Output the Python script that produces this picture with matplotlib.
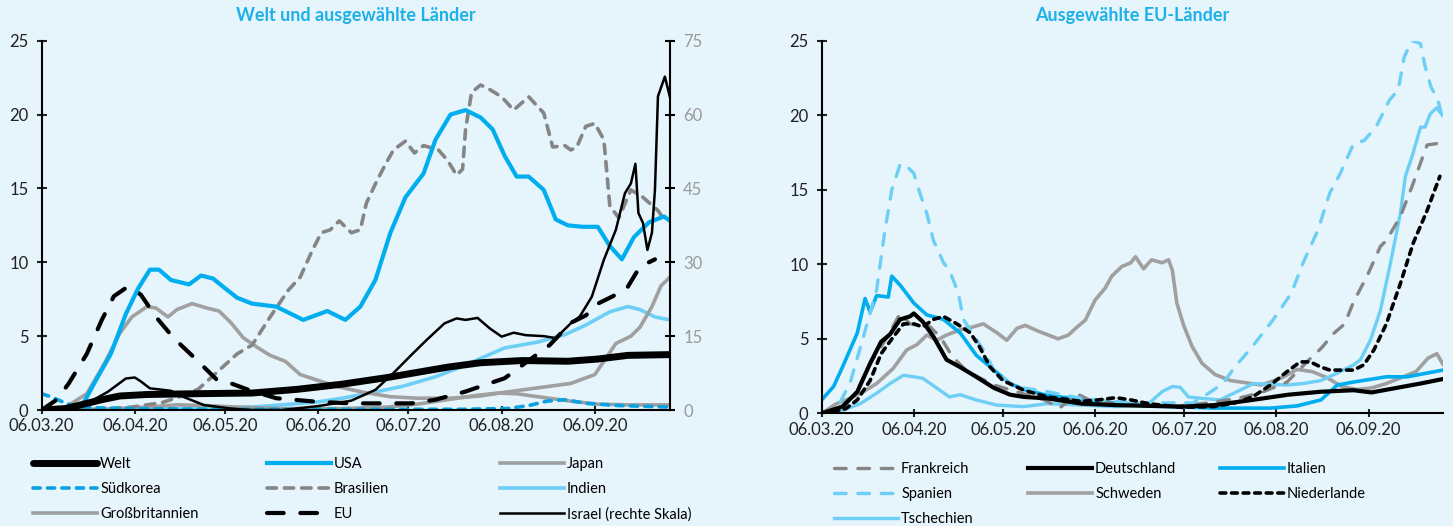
import numpy as np
import pandas as pd
import matplotlib
matplotlib.use("Agg")
import matplotlib.pyplot as plt

# Data: days after 06.03.20, values per 100k inhabitants (7-day avg)
welt_t = [0, 8, 14, 20, 26, 35, 50, 70, 85, 100, 115, 125, 135, 146, 160, 175, 185, 195, 209]
welt = [0, 0.1, 0.4, 0.7, 0.95, 1.05, 1.1, 1.15, 1.4, 1.75, 2.2, 2.55, 2.9, 3.2, 3.35, 3.3, 3.45, 3.7, 3.75]

usa_t = [0, 10, 14, 18, 23, 28, 32, 36, 39, 43, 49, 53, 57, 60, 65, 70, 78, 87, 95, 101, 106, 111, 116,
         121, 127, 131, 136, 141, 146, 150, 154, 158, 162, 167, 171, 175, 180, 185, 189, 193, 197, 202, 207, 209]
usa = [0.1, 0.1, 0.5, 2, 3.8, 6.5, 8.2, 9.5, 9.5, 8.8, 8.5, 9.1, 8.9, 8.4, 7.6, 7.2, 7.0, 6.1, 6.7, 6.1, 7.0, 8.8, 12,
       14.4, 16, 18.3, 20, 20.3, 19.8, 19, 17.2, 15.8, 15.8, 14.9, 12.9, 12.5, 12.4, 12.4, 11.1, 10.2, 11.7, 12.7, 13.1, 12.8]

japan_t = [0, 20, 35, 45, 55, 65, 80, 100, 115, 125, 135, 145, 152, 158, 165, 176, 185, 195, 209]
japan = [0, 0.05, 0.2, 0.35, 0.3, 0.2, 0.1, 0.1, 0.2, 0.4, 0.7, 1.0, 1.15, 1.1, 0.9, 0.6, 0.4, 0.35, 0.35]

korea_t = [0, 3, 7, 11, 18, 30, 60, 100, 140, 155, 162, 168, 174, 181, 192, 209]
korea = [1.1, 0.9, 0.55, 0.25, 0.15, 0.1, 0.05, 0.05, 0.05, 0.1, 0.3, 0.6, 0.7, 0.45, 0.3, 0.2]

brasil_t = [0, 20, 30, 40, 46, 52, 58, 65, 70, 76, 82, 86, 90, 93, 96, 99, 103, 106, 108, 111, 114, 117, 121,
            124, 127, 132, 135, 138, 140, 141, 143, 146, 149, 153, 157, 162, 167, 170, 174, 176, 178, 181, 184,
            187, 189, 192, 196, 200, 205, 207]
brasil = [0, 0.05, 0.2, 0.5, 0.9, 1.4, 2.5, 3.8, 4.4, 6.3, 8.1, 9.0, 10.8, 12.0, 12.2, 12.8, 12.0, 12.2, 14.0,
          15.3, 16.5, 17.6, 18.2, 17.4, 17.9, 17.6, 16.9, 15.9, 16.3, 19, 21.5, 22.0, 21.7, 21.2, 20.3, 21.2,
          20.1, 17.8, 17.9, 17.6, 17.8, 19.2, 19.4, 18.3, 13.8, 13.0, 14.9, 14.4, 13.5, 12.9]

indien_t = [0, 30, 50, 70, 80, 92, 100, 108, 120, 131, 138, 146, 154, 165, 174, 181, 189, 195, 199, 204, 209]
indien = [0, 0.05, 0.1, 0.2, 0.35, 0.55, 0.8, 1.1, 1.6, 2.25, 2.8, 3.5, 4.2, 4.6, 5.1, 5.75, 6.65, 7.0, 6.8, 6.3, 6.1]

gb_t = [0, 8, 15, 21, 26, 30, 35, 38, 42, 45, 50, 55, 59, 63, 67, 72, 76, 81, 86, 92, 98, 107, 116, 125,
        136, 146, 154, 165, 176, 184, 188, 191, 196, 199, 203, 206, 209]
gb = [0, 0.2, 1.1, 3.2, 5.2, 6.3, 7.0, 6.9, 6.3, 6.8, 7.2, 6.9, 6.7, 5.9, 4.9, 4.2, 3.7, 3.3, 2.4, 2.0, 1.6,
      1.2, 0.9, 0.8, 0.8, 0.95, 1.2, 1.5, 1.8, 2.4, 3.6, 4.5, 5.0, 5.6, 7.0, 8.4, 9.0]

eu_t = [0, 5, 9, 15, 20, 24, 29, 33, 38, 44, 51, 58, 63, 69, 78, 92, 103, 114, 123, 131, 141, 146, 154, 161,
        169, 176, 181, 185, 190, 195, 199, 204]
eu = [0, 0.7, 1.8, 3.8, 6.1, 7.7, 8.4, 7.8, 6.3, 4.85, 3.5, 2.1, 1.8, 1.35, 0.8, 0.55, 0.45, 0.45, 0.45, 0.7,
      1.25, 1.6, 2.15, 3.2, 4.4, 5.9, 6.4, 7.2, 7.7, 8.35, 9.7, 10.2]

israel_t = [0, 10, 15, 22, 28, 31, 33, 36, 43, 47, 54, 63, 70, 80, 92, 103, 111, 117, 123, 128, 134, 138, 141,
            145, 149, 153, 157, 161, 167, 171, 176, 179, 183, 187, 191, 194, 196, 197.5, 198.5, 200, 201.5, 203,
            204, 205, 207.3, 209]
israel = [0, 0.3, 1.3, 3.7, 6.4, 6.6, 5.8, 4.4, 3.9, 2.7, 1.0, 0.3, 0, 0, 0.8, 1.9, 4.1, 7.5, 11.2, 14.2, 17.6,
          18.6, 18.3, 18.7, 16.6, 14.9, 15.7, 15.2, 15.0, 14.6, 17.6, 19.0, 23, 30.5, 36.6, 44, 46, 50, 40, 38,
          32.5, 36, 44.7, 63.7, 67.7, 63.5]

# EU countries
frank_t = [0, 8, 12, 16.3, 22, 26.4, 29.7, 33, 36.5, 40, 44, 48, 52, 58, 63, 68, 75, 80, 86, 90, 100, 110, 120,
           130, 140, 148, 156.6, 164, 168, 172.5, 176, 179, 183.5, 188, 190, 194.7, 198.6, 201.5, 203.7, 207]
frank = [0, 0.6, 1.55, 3.35, 5.1, 6.7, 6.0, 5.9, 5.8, 5.1, 3.8, 3.0, 2.5, 1.9, 1.6, 1.3, 0.9, 0.35, 1.3, 0.9,
         0.6, 0.5, 0.5, 0.7, 1.0, 1.4, 2.1, 3.6, 4.35, 5.4, 6.0, 7.5, 9.2, 11.2, 11.6, 13.2, 15.2, 16.8, 18.0, 18.1]

deut_t = [0, 7, 12, 16.3, 20, 23, 26.4, 29.7, 31, 34, 37.6, 42, 46.6, 52, 58, 63.4, 68, 76, 87.5, 99, 110, 121,
          132, 145, 157, 168, 179, 185, 196, 201.5, 209]
deut = [0, 0.45, 1.45, 3.35, 4.8, 5.3, 6.3, 6.5, 6.7, 6.15, 5.15, 3.6, 3.1, 2.45, 1.7, 1.25, 1.1, 1.0, 0.65, 0.55,
        0.5, 0.45, 0.55, 0.9, 1.25, 1.45, 1.55, 1.4, 1.8, 2.0, 2.3]

ital_t = [0, 4, 7, 12, 14.6, 16.3, 18.5, 22.4, 23.6, 26.4, 31, 35.4, 41, 46.6, 52, 58, 63.4, 68, 76, 93, 110,
          132, 151, 160, 168, 173.5, 179, 190, 197, 209]
ital = [0.9, 1.8, 3.1, 5.4, 7.7, 6.8, 7.9, 7.8, 9.2, 8.6, 7.4, 6.6, 6.3, 5.4, 3.9, 2.9, 2.0, 1.6, 1.2, 0.8, 0.5,
        0.35, 0.35, 0.5, 0.9, 1.9, 2.1, 2.45, 2.45, 2.9]

span_t = [0, 5, 9.5, 14, 18.5, 21.3, 23.6, 26.4, 28, 31, 33, 35.4, 37.6, 41, 43, 46, 47.7, 51, 54.4, 58, 63.4,
          68, 76, 87.5, 104, 116, 125, 131, 135, 139, 145, 152, 158, 162, 167, 171, 174.5, 179, 182.5, 186.5,
          191, 194, 196, 198.6, 201.5, 203, 205, 207.4, 209]
span = [0, 0.3, 2.0, 5.1, 8.3, 12.3, 15, 16.7, 16.7, 16.1, 14.8, 13.4, 11.6, 10.1, 9.6, 8.05, 6.3, 5.3, 4.25,
        2.9, 2.0, 1.7, 1.45, 1.0, 0.7, 0.7, 0.7, 1.45, 2.0, 3.1, 4.5, 6.3, 8.05, 10.1, 12.3, 14.8, 16.1, 18.1,
        18.3, 19.2, 21.0, 21.7, 23.9, 25.0, 24.8, 23.3, 21.9, 21.0, 19.7]

schw_t = [0, 5, 9.5, 14, 18.5, 24, 28.6, 32, 35.4, 38.7, 42, 46.6, 51, 54.4, 59, 62.3, 65.7, 68.5, 73, 76.3,
          79.5, 83, 86, 88.7, 92, 95.4, 97.6, 101, 104, 105.6, 108.3, 111, 114.5, 116.7, 118, 119.5, 121.8,
          124.6, 128, 132.4, 137.5, 141, 148, 155, 160, 165, 170, 175, 180, 185, 190, 195, 200, 204, 207, 209]
schw = [0, 0.65, 1.0, 1.45, 2.0, 3.0, 4.25, 4.6, 5.25, 4.9, 5.25, 5.6, 5.8, 6.0, 5.4, 4.9, 5.7, 5.9, 5.5, 5.25,
        5.0, 5.25, 5.8, 6.25, 7.6, 8.4, 9.2, 9.85, 10.1, 10.5, 9.7, 10.3, 10.1, 10.3, 9.6, 7.4, 5.9, 4.5, 3.35,
        2.6, 2.2, 2.1, 1.9, 2.4, 2.95, 2.8, 2.4, 1.8, 1.6, 1.7, 2.0, 2.4, 2.8, 3.7, 4.0, 3.3]

nied_t = [0, 8, 12, 16.3, 20, 24, 27.5, 31, 34, 37.6, 41, 45.5, 50, 53, 56.7, 61, 68, 76, 87.5, 93, 99, 104,
          110, 121, 132, 139, 145, 151, 156.6, 161, 164.4, 168, 171, 179, 182.4, 185.8, 190, 194.7, 199, 203.7, 208]
nied = [0, 0.3, 0.9, 2.2, 4.0, 5.1, 6.0, 6.0, 5.8, 6.3, 6.5, 6.0, 5.4, 4.5, 3.1, 2.2, 1.55, 1.1, 0.8, 0.9, 1.05,
        0.9, 0.65, 0.4, 0.45, 0.7, 1.1, 1.9, 2.8, 3.45, 3.45, 3.1, 2.9, 2.9, 3.25, 4.25, 6.0, 8.7, 11.4, 13.6, 15.9]

tsch_t = [0, 7, 13, 18.5, 23, 27.5, 31, 34, 38.7, 43, 46.6, 52, 59, 68, 76, 87.5, 99, 110, 114.5, 118, 120.6,
          123.4, 128, 134, 139.7, 145.3, 156.6, 162, 168, 173.5, 179, 181.3, 184.6, 188, 191.4, 194.7, 196.4,
          198.6, 201.5, 203, 204.8, 207, 208.8]
tsch = [0, 0.2, 0.65, 1.35, 2.0, 2.55, 2.45, 2.35, 1.7, 1.1, 1.25, 0.9, 0.55, 0.45, 0.65, 0.55, 0.45, 0.65, 1.45,
        1.8, 1.75, 1.1, 1.0, 0.9, 1.45, 2.0, 1.9, 2.0, 2.2, 2.7, 3.25, 3.6, 4.9, 6.9, 10.1, 13.4, 15.9, 17.2,
        19.2, 19.2, 20.1, 20.5, 20.0]

start = pd.Timestamp("2020-03-06")
end = pd.Timestamp("2020-10-01")
tick_dates = pd.date_range(start, periods=7, freq=pd.DateOffset(months=1))


def dt(days):
    return start + pd.to_timedelta(np.asarray(days, dtype=float), unit="D")


bg = "#e6f4fb"
c_blue = "#00aeef"
c_lblue = "#6dcff6"
c_gray = "#a0a0a0"
c_dgray = "#858585"
title_col = "#1eb0e8"

plt.rcParams["font.family"] = ["Lato", "DejaVu Sans"]

fig = plt.figure(figsize=(14.53, 5.26), dpi=100, facecolor=bg)
ax1 = fig.add_axes([0.0287, 0.2205, 0.4324, 0.7022])
ax2 = fig.add_axes([0.5655, 0.2142, 0.4275, 0.7085])
for ax in (ax1, ax2):
    ax.set_facecolor(bg)
    ax.set_xlim(start, end)
    ax.set_ylim(0, 25)
    ax.set_yticks(range(0, 26, 5))
    ax.set_xticks(tick_dates)
    ax.set_xticklabels([d.strftime("%d.%m.%y") for d in tick_dates])
    ax.spines["top"].set_visible(False)
    ax.spines["right"].set_visible(False)
    for s in ("left", "bottom"):
        ax.spines[s].set_linewidth(1.5)
    ax.tick_params(axis="y", direction="inout", length=7, width=1.5, labelsize=12, colors="#222222", pad=6)
    ax.tick_params(axis="x", direction="inout", length=6, width=1.5, labelsize=12, colors="#222222", pad=3)

ax1r = ax1.twinx()
ax1r.set_ylim(0, 75)
ax1r.set_yticks(range(0, 76, 15))
ax1r.spines["top"].set_visible(False)
ax1r.spines["left"].set_visible(False)
ax1r.spines["bottom"].set_visible(False)
ax1r.spines["right"].set_linewidth(1.5)
ax1r.tick_params(axis="y", direction="inout", length=7, width=1.5, labelsize=12, pad=6, labelcolor="#999999")

# left chart
l_indien, = ax1.plot(dt(indien_t), indien, color=c_lblue, lw=2.6)
l_japan, = ax1.plot(dt(japan_t), japan, color=c_gray, lw=2.6)
l_gb, = ax1.plot(dt(gb_t), gb, color=c_gray, lw=2.6)
l_brasil, = ax1.plot(dt(brasil_t), brasil, color=c_dgray, lw=2.6, dashes=(2.6, 2.2), dash_capstyle="round")
l_korea, = ax1.plot(dt(korea_t), korea, color="#0aa2e0", lw=2.6, dashes=(2.0, 2.0), dash_capstyle="round")
l_eu, = ax1.plot(dt(eu_t), eu, color="black", lw=3, dashes=(4.0, 4.0), dash_capstyle="round")
l_usa, = ax1.plot(dt(usa_t), usa, color=c_blue, lw=3)
l_welt, = ax1.plot(dt(welt_t), welt, color="black", lw=5, solid_capstyle="round")
l_israel, = ax1r.plot(dt(israel_t), israel, color="black", lw=1.8)

# right chart
r_schw, = ax2.plot(dt(schw_t), schw, color=c_gray, lw=2.6)
r_tsch, = ax2.plot(dt(tsch_t), tsch, color=c_lblue, lw=2.4)
r_ital, = ax2.plot(dt(ital_t), ital, color=c_blue, lw=2.6)
r_frank, = ax2.plot(dt(frank_t), frank, color=c_dgray, lw=2.4, dashes=(3.5, 3.5), dash_capstyle="round")
r_span, = ax2.plot(dt(span_t), span, color=c_lblue, lw=2.4, dashes=(3.5, 3.5), dash_capstyle="round")
r_deut, = ax2.plot(dt(deut_t), deut, color="black", lw=3)
r_nied, = ax2.plot(dt(nied_t), nied, color="black", lw=2.6, dashes=(1.6, 1.6), dash_capstyle="round")

ax1.set_title("Welt und ausgewählte Länder", color=title_col, fontsize=13, fontweight="bold", pad=14)
ax2.set_title("Ausgewählte EU-Länder", color=title_col, fontsize=13, fontweight="bold", pad=14)

leg_kw = dict(loc="upper left", frameon=False, fontsize=10.5, handlelength=4.4, handletextpad=0.2,
              labelspacing=0.76, borderpad=0, borderaxespad=0)
left_cols = [
    (33, [l_welt, l_korea, l_gb], ["Welt", "Südkorea", "Großbritannien"]),
    (267, [l_usa, l_brasil, l_eu], ["USA", "Brasilien", "EU"]),
    (500, [l_japan, l_indien, l_israel], ["Japan", "Indien", "Israel (rechte Skala)"]),
]
for x, hs, labs in left_cols:
    fig.legend(hs, labs, bbox_to_anchor=(x / 1453, 1 - 457 / 526), **leg_kw)

right_cols = [
    (834, [r_frank, r_span, r_tsch], ["Frankreich", "Spanien", "Tschechien"]),
    (1028, [r_deut, r_schw], ["Deutschland", "Schweden"]),
    (1220, [r_ital, r_nied], ["Italien", "Niederlande"]),
]
for x, hs, labs in right_cols:
    fig.legend(hs, labs, bbox_to_anchor=(x / 1453, 1 - 462 / 526), **leg_kw)

fig.savefig("out.png", dpi=100, facecolor=bg)
